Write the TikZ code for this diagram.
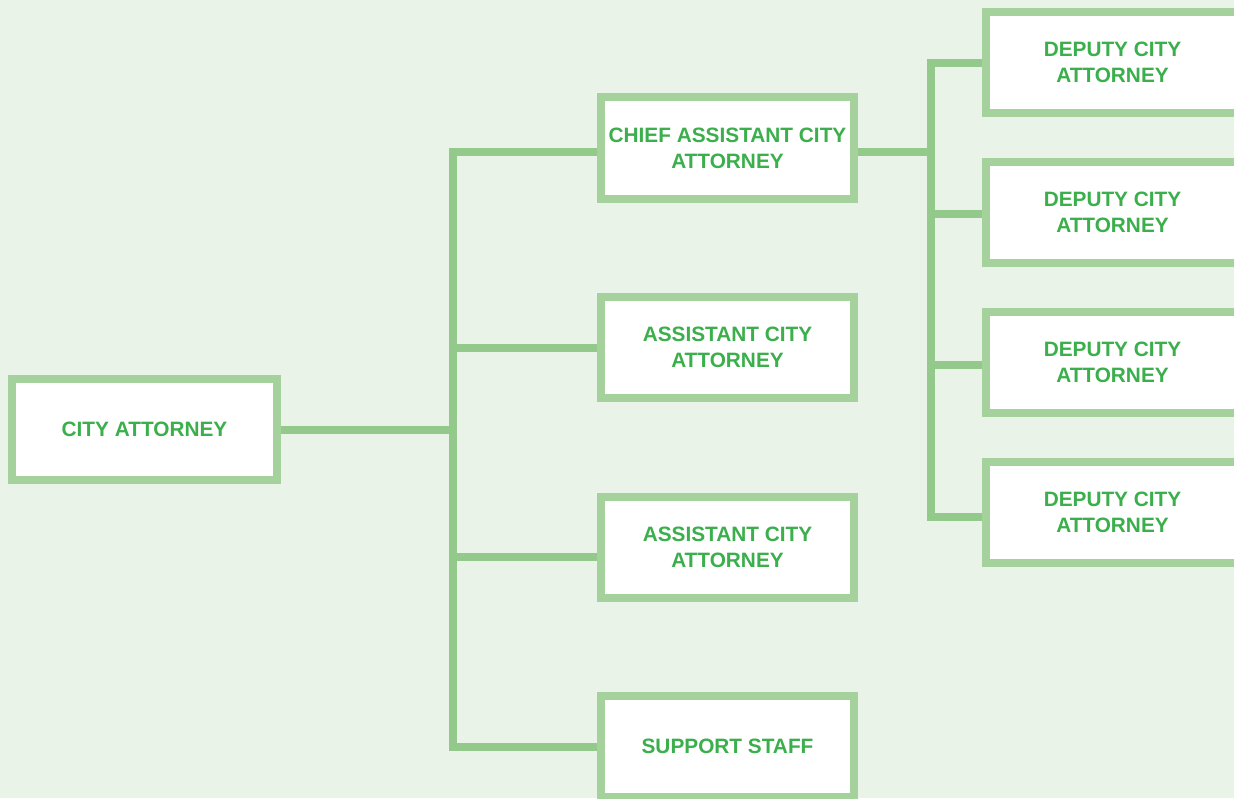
\documentclass[tikz,border=0pt]{standalone}
\usepackage{fontspec}
\setmainfont{Liberation Sans}
\usetikzlibrary{calc,backgrounds}
\definecolor{bgc}{HTML}{E9F3E7}
\definecolor{boxline}{HTML}{A5D19C}
\definecolor{connline}{HTML}{93C98B}
\definecolor{txt}{HTML}{3BAF4B}
\tikzset{
  orgbox/.style={draw=boxline, line width=8pt, fill=white, minimum width=253pt, minimum height=101pt,
    inner sep=0pt, align=center, text=txt, font=\fontsize{20.8}{26}\selectfont\bfseries},
  conn/.style={draw=connline, line width=8pt, line join=miter, line cap=butt}
}
\begin{document}
\begin{tikzpicture}[x=1pt,y=-1pt]
\useasboundingbox (0,0) rectangle (1234,798);
\clip (0,0) rectangle (1234,798);
\node[orgbox, minimum width=265pt] (city) at (144.5,429.5) {CITY ATTORNEY};
\node[orgbox, minimum height=102pt] (chief) at (727.5,148) {CHIEF ASSISTANT CITY\\ATTORNEY};
\node[orgbox] (a1) at (727.5,347.5) {ASSISTANT CITY\\ATTORNEY};
\node[orgbox] (a2) at (727.5,547) {ASSISTANT CITY\\ATTORNEY};
\node[orgbox] (staff) at (727.5,746.5) {SUPPORT STAFF};
\node[orgbox] (d1) at (1112.5,62.5) {DEPUTY CITY\\ATTORNEY};
\node[orgbox] (d2) at (1112.5,212.5) {DEPUTY CITY\\ATTORNEY};
\node[orgbox] (d3) at (1112.5,362.5) {DEPUTY CITY\\ATTORNEY};
\node[orgbox] (d4) at (1112.5,512.5) {DEPUTY CITY\\ATTORNEY};
\coordinate (tA) at (453,152);
\coordinate (tB) at (453,747);
\coordinate (rA) at (931,63);
\coordinate (rB) at (931,517);
\begin{scope}[on background layer]
\fill[bgc] (0,0) rectangle (1234,798);
\draw[conn] ($(chief.west)+(0,4)$) -- (tA) -- (tB) -- ($(staff.west)+(0,0.5)$);
\draw[conn] (city.east) -- (city.east -| tA);
\draw[conn] (a1.west) -- (a1.west -| tA);
\draw[conn] ($(a2.west)+(0,10)$) -- ($(a2.west -| tA)+(0,10)$);
\draw[conn] (d1.west |- rA) -- (rA) -- (rB) -- (d4.west |- rB);
\draw[conn] ($(d2.west)+(0,1.5)$) -- ($(d2.west -| rA)+(0,1.5)$);
\draw[conn] ($(d3.west)+(0,2.5)$) -- ($(d3.west -| rA)+(0,2.5)$);
\draw[conn] ($(chief.east)+(0,4)$) -- ($(chief.east -| rA)+(0,4)$);
\end{scope}
\end{tikzpicture}
\end{document}
